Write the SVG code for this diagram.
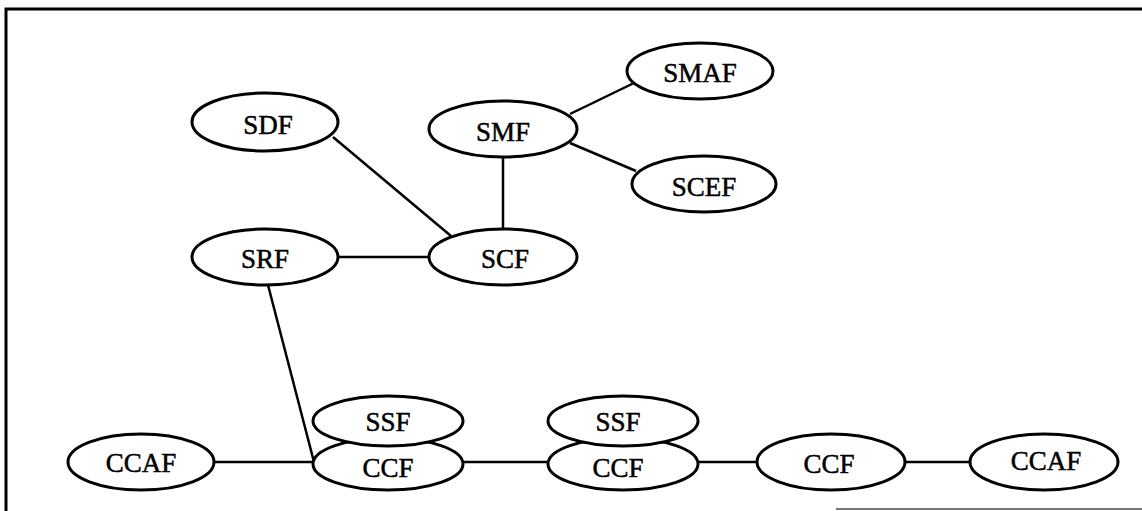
<svg xmlns="http://www.w3.org/2000/svg" width="1142" height="511" viewBox="0 0 1142 511">
<style>
.n ellipse{fill:#fff;stroke:#000;stroke-width:3}
.n text{font-family:"Liberation Serif","Times New Roman",serif;font-size:27px;text-anchor:middle;dominant-baseline:central;fill:#000;stroke:#000;stroke-width:0.5}
.c line{stroke:#000;stroke-width:2.5}
.frame{stroke:#000;stroke-width:3;fill:none}
</style>
<rect width="1142" height="511" fill="#fff"/>
<path class="frame" d="M6,511 V9 H1142"/>
<line x1="836" y1="509" x2="1142" y2="509" stroke="#777" stroke-width="2"/>
<g class="c" id="connectors">
<line x1="333" y1="137" x2="451" y2="236"/>
<line x1="503" y1="157" x2="503" y2="229"/>
<line x1="570" y1="114" x2="634" y2="83"/>
<line x1="570" y1="143" x2="636" y2="171"/>
<line x1="338" y1="257" x2="428" y2="257"/>
<line x1="268" y1="285" x2="314" y2="462"/>
<line x1="213" y1="462" x2="313" y2="462"/>
<line x1="463" y1="462" x2="548" y2="462"/>
<line x1="698" y1="462" x2="757" y2="462"/>
<line x1="905" y1="462" x2="970" y2="462"/>
</g>
<g class="n" id="SDF"><ellipse cx="265" cy="122" rx="73" ry="29"/><text x="268" y="125">SDF</text></g>
<g class="n" id="SMF"><ellipse cx="503" cy="129" rx="74" ry="28"/><text x="503" y="132">SMF</text></g>
<g class="n" id="SMAF"><ellipse cx="700" cy="71" rx="73" ry="28"/><text x="700" y="73">SMAF</text></g>
<g class="n" id="SCEF"><ellipse cx="704" cy="184" rx="72" ry="28"/><text x="704" y="187">SCEF</text></g>
<g class="n" id="SRF"><ellipse cx="265" cy="257" rx="73" ry="28"/><text x="265" y="259">SRF</text></g>
<g class="n" id="SCF"><ellipse cx="503" cy="257" rx="74" ry="28"/><text x="505" y="259">SCF</text></g>
<g class="n" id="CCAF1"><ellipse cx="141" cy="462" rx="73" ry="28"/><text x="141" y="463">CCAF</text></g>
<g class="n" id="CCF1"><ellipse cx="388" cy="464" rx="75" ry="26"/><text x="388" y="468">CCF</text></g>
<g class="n" id="SSF1"><ellipse cx="388" cy="421" rx="75" ry="25"/><text x="388" y="422">SSF</text></g>
<g class="n" id="CCF2"><ellipse cx="623" cy="464" rx="75" ry="26"/><text x="618" y="468">CCF</text></g>
<g class="n" id="SSF2"><ellipse cx="623" cy="421" rx="75" ry="25"/><text x="618" y="422">SSF</text></g>
<g class="n" id="CCF3"><ellipse cx="831" cy="462" rx="74" ry="28"/><text x="829" y="464">CCF</text></g>
<g class="n" id="CCAF2"><ellipse cx="1044" cy="462" rx="74" ry="28"/><text x="1046" y="461">CCAF</text></g>
</svg>
